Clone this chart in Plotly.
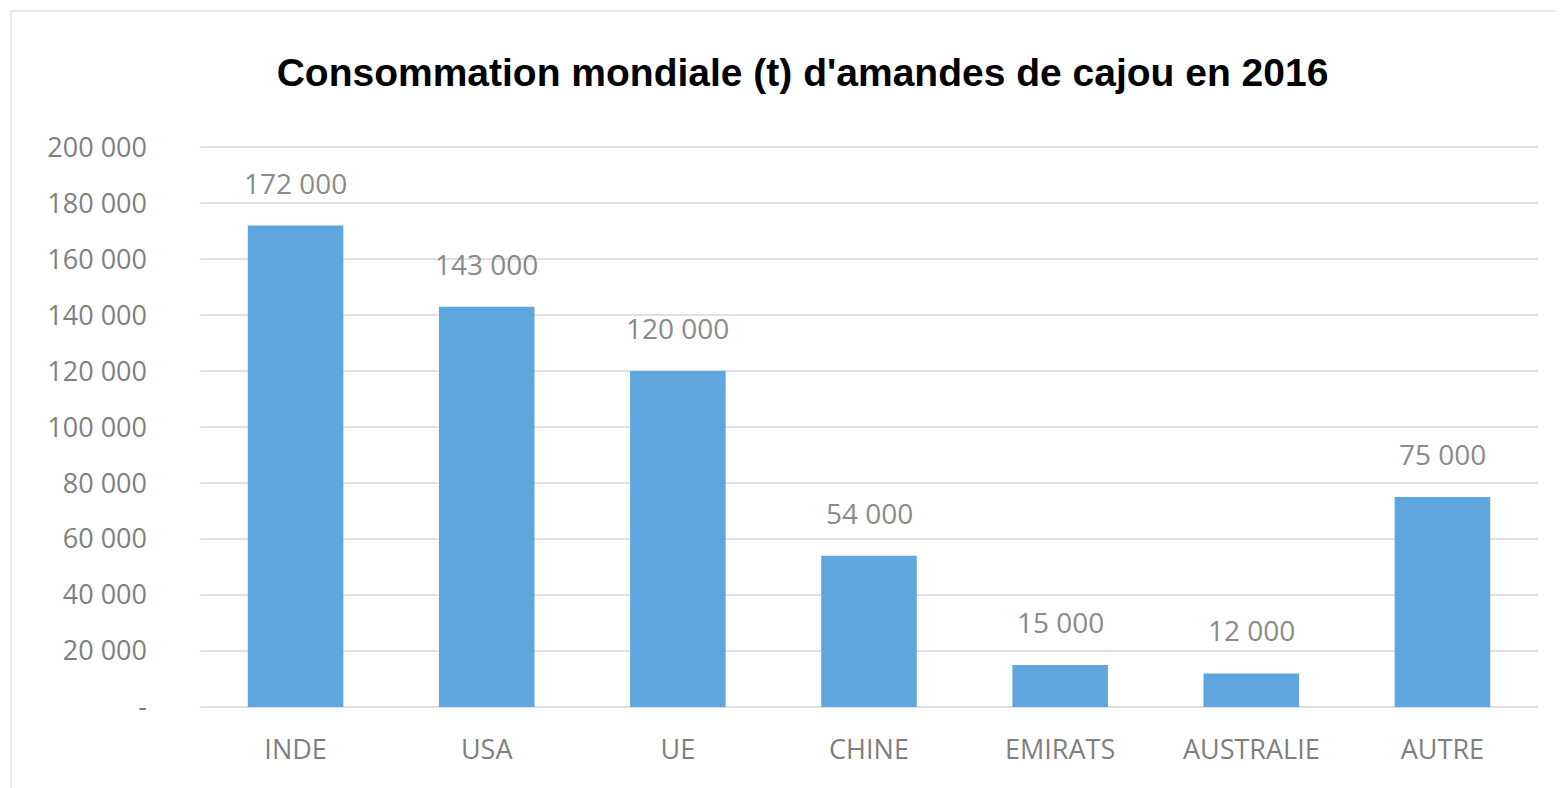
import plotly.graph_objects as go

categories = ["INDE", "USA", "UE", "CHINE", "EMIRATS", "AUSTRALIE", "AUTRE"]
values = [172000, 143000, 120000, 54000, 15000, 12000, 75000]
label_texts = ["172 000", "143 000", "120 000", "54 000", "15 000", "12 000", "75 000"]
y_tickvals = [0, 20000, 40000, 60000, 80000, 100000, 120000, 140000, 160000, 180000, 200000]
y_ticktext = ["-", "20 000", "40 000", "60 000", "80 000", "100 000", "120 000",
              "140 000", "160 000", "180 000", "200 000"]
title_text = "Consommation mondiale (t) d'amandes de cajou en 2016"

fig = go.Figure()
fig.add_trace(go.Bar(
    x=categories, y=values,
    marker=dict(color="#60a6de", line=dict(width=0)),
    hoverinfo="x+y",
))

for c, v, t in zip(categories, values, label_texts):
    fig.add_annotation(x=c, y=v, text=t, showarrow=False, yanchor="bottom",
                       yshift=22, font=dict(family="Open Sans, Lato, sans-serif", size=28, color="#8a8a8a"))

fig.update_layout(
    width=1564, height=788,
    paper_bgcolor="white", plot_bgcolor="white",
    margin=dict(l=192, r=34, t=138, b=89),
    bargap=0.5,
    showlegend=False,
    title=dict(text="<b>" + title_text + "</b>", x=0.508, xanchor="center", y=0.918, yanchor="middle",
               font=dict(family="Liberation Sans, Arial, sans-serif", size=39, color="#000000")),
    xaxis=dict(showgrid=False, showline=False, zeroline=False, ticks="",
               tickfont=dict(family="Open Sans, Lato, sans-serif", size=27, color="#7f7f7f"),
               ticklabelstandoff=24),
    yaxis=dict(range=[0, 200400], tickvals=y_tickvals, ticktext=y_ticktext,
               showgrid=True, gridcolor="#dfdfeb", gridwidth=2,
               zeroline=True, zerolinecolor="#dfdfeb", zerolinewidth=2,
               showline=False, ticks="",
               tickfont=dict(family="Open Sans, Lato, sans-serif", size=27, color="#7f7f7f"),
               ticklabelstandoff=52),
)

fig.add_shape(type="rect", xref="paper", yref="paper",
              x0=-0.1413, x1=1.1, y0=-0.3, y1=1.2406,
              line=dict(color="#e6e9ee", width=2), fillcolor="rgba(0,0,0,0)", layer="below")

fig.write_html("out.html")
